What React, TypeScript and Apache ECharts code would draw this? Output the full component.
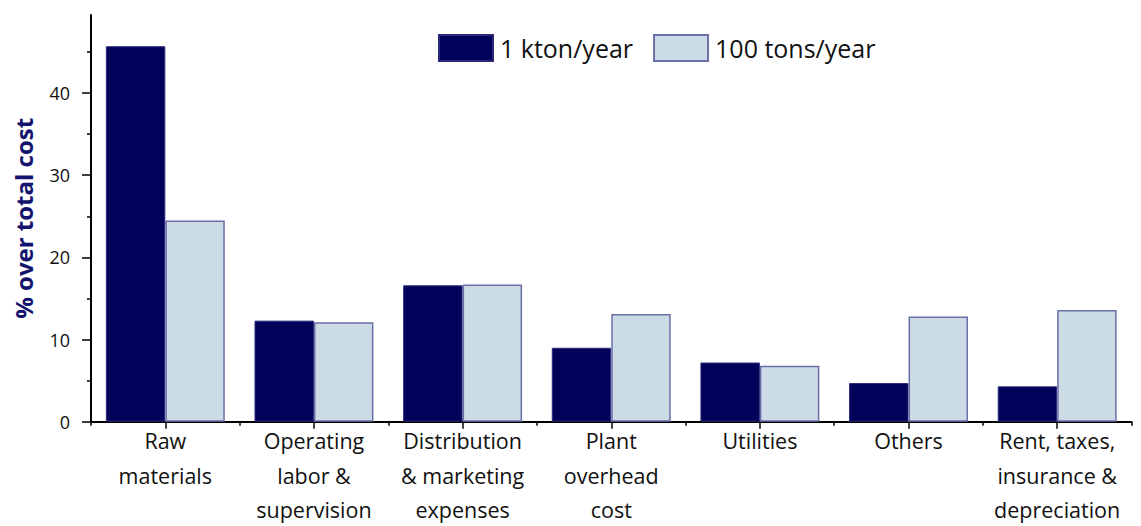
import React, { useEffect, useRef } from "react";
import * as echarts from "echarts";

const categories = [
  "Raw\nmaterials",
  "Operating\nlabor &\nsupervision",
  "Distribution\n& marketing\nexpenses",
  "Plant\noverhead\ncost",
  "Utilities",
  "Others",
  "Rent, taxes,\ninsurance &\ndepreciation",
];
const seriesNames = ["1 kton/year", "100 tons/year"];
const kton = [45.7, 12.3, 16.6, 9.0, 7.2, 4.7, 4.3];
const tons100 = [24.5, 12.1, 16.7, 13.1, 6.8, 12.8, 13.6];
const yMajorTicks = [0, 10, 20, 30, 40];
const yMinorTicks = [5, 15, 25, 35, 45];
const yMax = 49.5;

const FONT = "'Open Sans', 'Noto Sans', sans-serif";

export default function App() {
  const ref = useRef<HTMLDivElement>(null);
  useEffect(() => {
    if (!ref.current) return;
    const chart = echarts.init(ref.current, null, { renderer: "svg" });
    chart.setOption({
      animation: false,
      backgroundColor: "#ffffff",
      textStyle: { fontFamily: FONT },
      legend: {
        left: 433,
        top: 29,
        icon: "rect",
        itemWidth: 54,
        itemHeight: 26,
        itemGap: 20,
        textStyle: { fontSize: 25, color: "#111", fontFamily: FONT, padding: [0, 0, 0, 2] },
        data: seriesNames,
      },
      grid: { left: 91, right: 9.5, top: 15, bottom: 104.3, outerBoundsMode: "none", containLabel: false },
      xAxis: [
        {
          type: "category",
          data: categories,
          axisLine: { lineStyle: { color: "#000", width: 2 } },
          axisTick: { show: true, alignWithLabel: false, length: 4, lineStyle: { color: "#000", width: 1.5 } },
          axisLabel: {
            interval: 0,
            fontSize: 21.5,
            lineHeight: 34.5,
            color: "#111",
            margin: 2,
            fontFamily: FONT,
          },
        },
        {
          type: "category",
          data: categories,
          position: "bottom",
          axisLine: { show: false },
          axisTick: { show: true, alignWithLabel: true, length: 7, lineStyle: { color: "#000", width: 1.5 } },
          axisLabel: { show: false },
        },
      ],
      yAxis: [
        {
          type: "value",
          min: 0,
          max: yMax,
          interval: 10,
          name: "% over total cost",
          nameLocation: "middle",
          nameGap: 56,
          nameTextStyle: { fontSize: 24, fontWeight: "bold", color: "#14146e", fontFamily: FONT },
          axisLine: { show: true, lineStyle: { color: "#000", width: 2 } },
          axisTick: { show: true, length: 9, customValues: yMajorTicks, lineStyle: { color: "#000", width: 1.5 } },
          axisLabel: { customValues: yMajorTicks, fontSize: 18, color: "#111", margin: 21, fontFamily: FONT },
          splitLine: { show: false },
        },
        {
          type: "value",
          min: 0,
          max: yMax,
          interval: 10,
          position: "left",
          axisLine: { show: false },
          axisTick: { show: true, length: 4, customValues: yMinorTicks, lineStyle: { color: "#000", width: 1.5 } },
          axisLabel: { show: false },
          splitLine: { show: false },
        },
      ],
      series: [
        {
          name: seriesNames[0],
          type: "bar",
          data: kton,
          xAxisIndex: 0,
          yAxisIndex: 0,
          barGap: "0%",
          barCategoryGap: "20%",
          itemStyle: { color: "#02025a", borderColor: "#2a2a78", borderWidth: 1 },
        },
        {
          name: seriesNames[1],
          type: "bar",
          data: tons100,
          xAxisIndex: 0,
          yAxisIndex: 0,
          barGap: "0%",
          barCategoryGap: "20%",
          itemStyle: { color: "#cbdce6", borderColor: "#6b6fa8", borderWidth: 1.5 },
        },
      ],
    });
    return () => chart.dispose();
  }, []);
  return <div ref={ref} style={{ width: 1141, height: 526, position: "absolute", left: 0, top: 0 }} />;
}
